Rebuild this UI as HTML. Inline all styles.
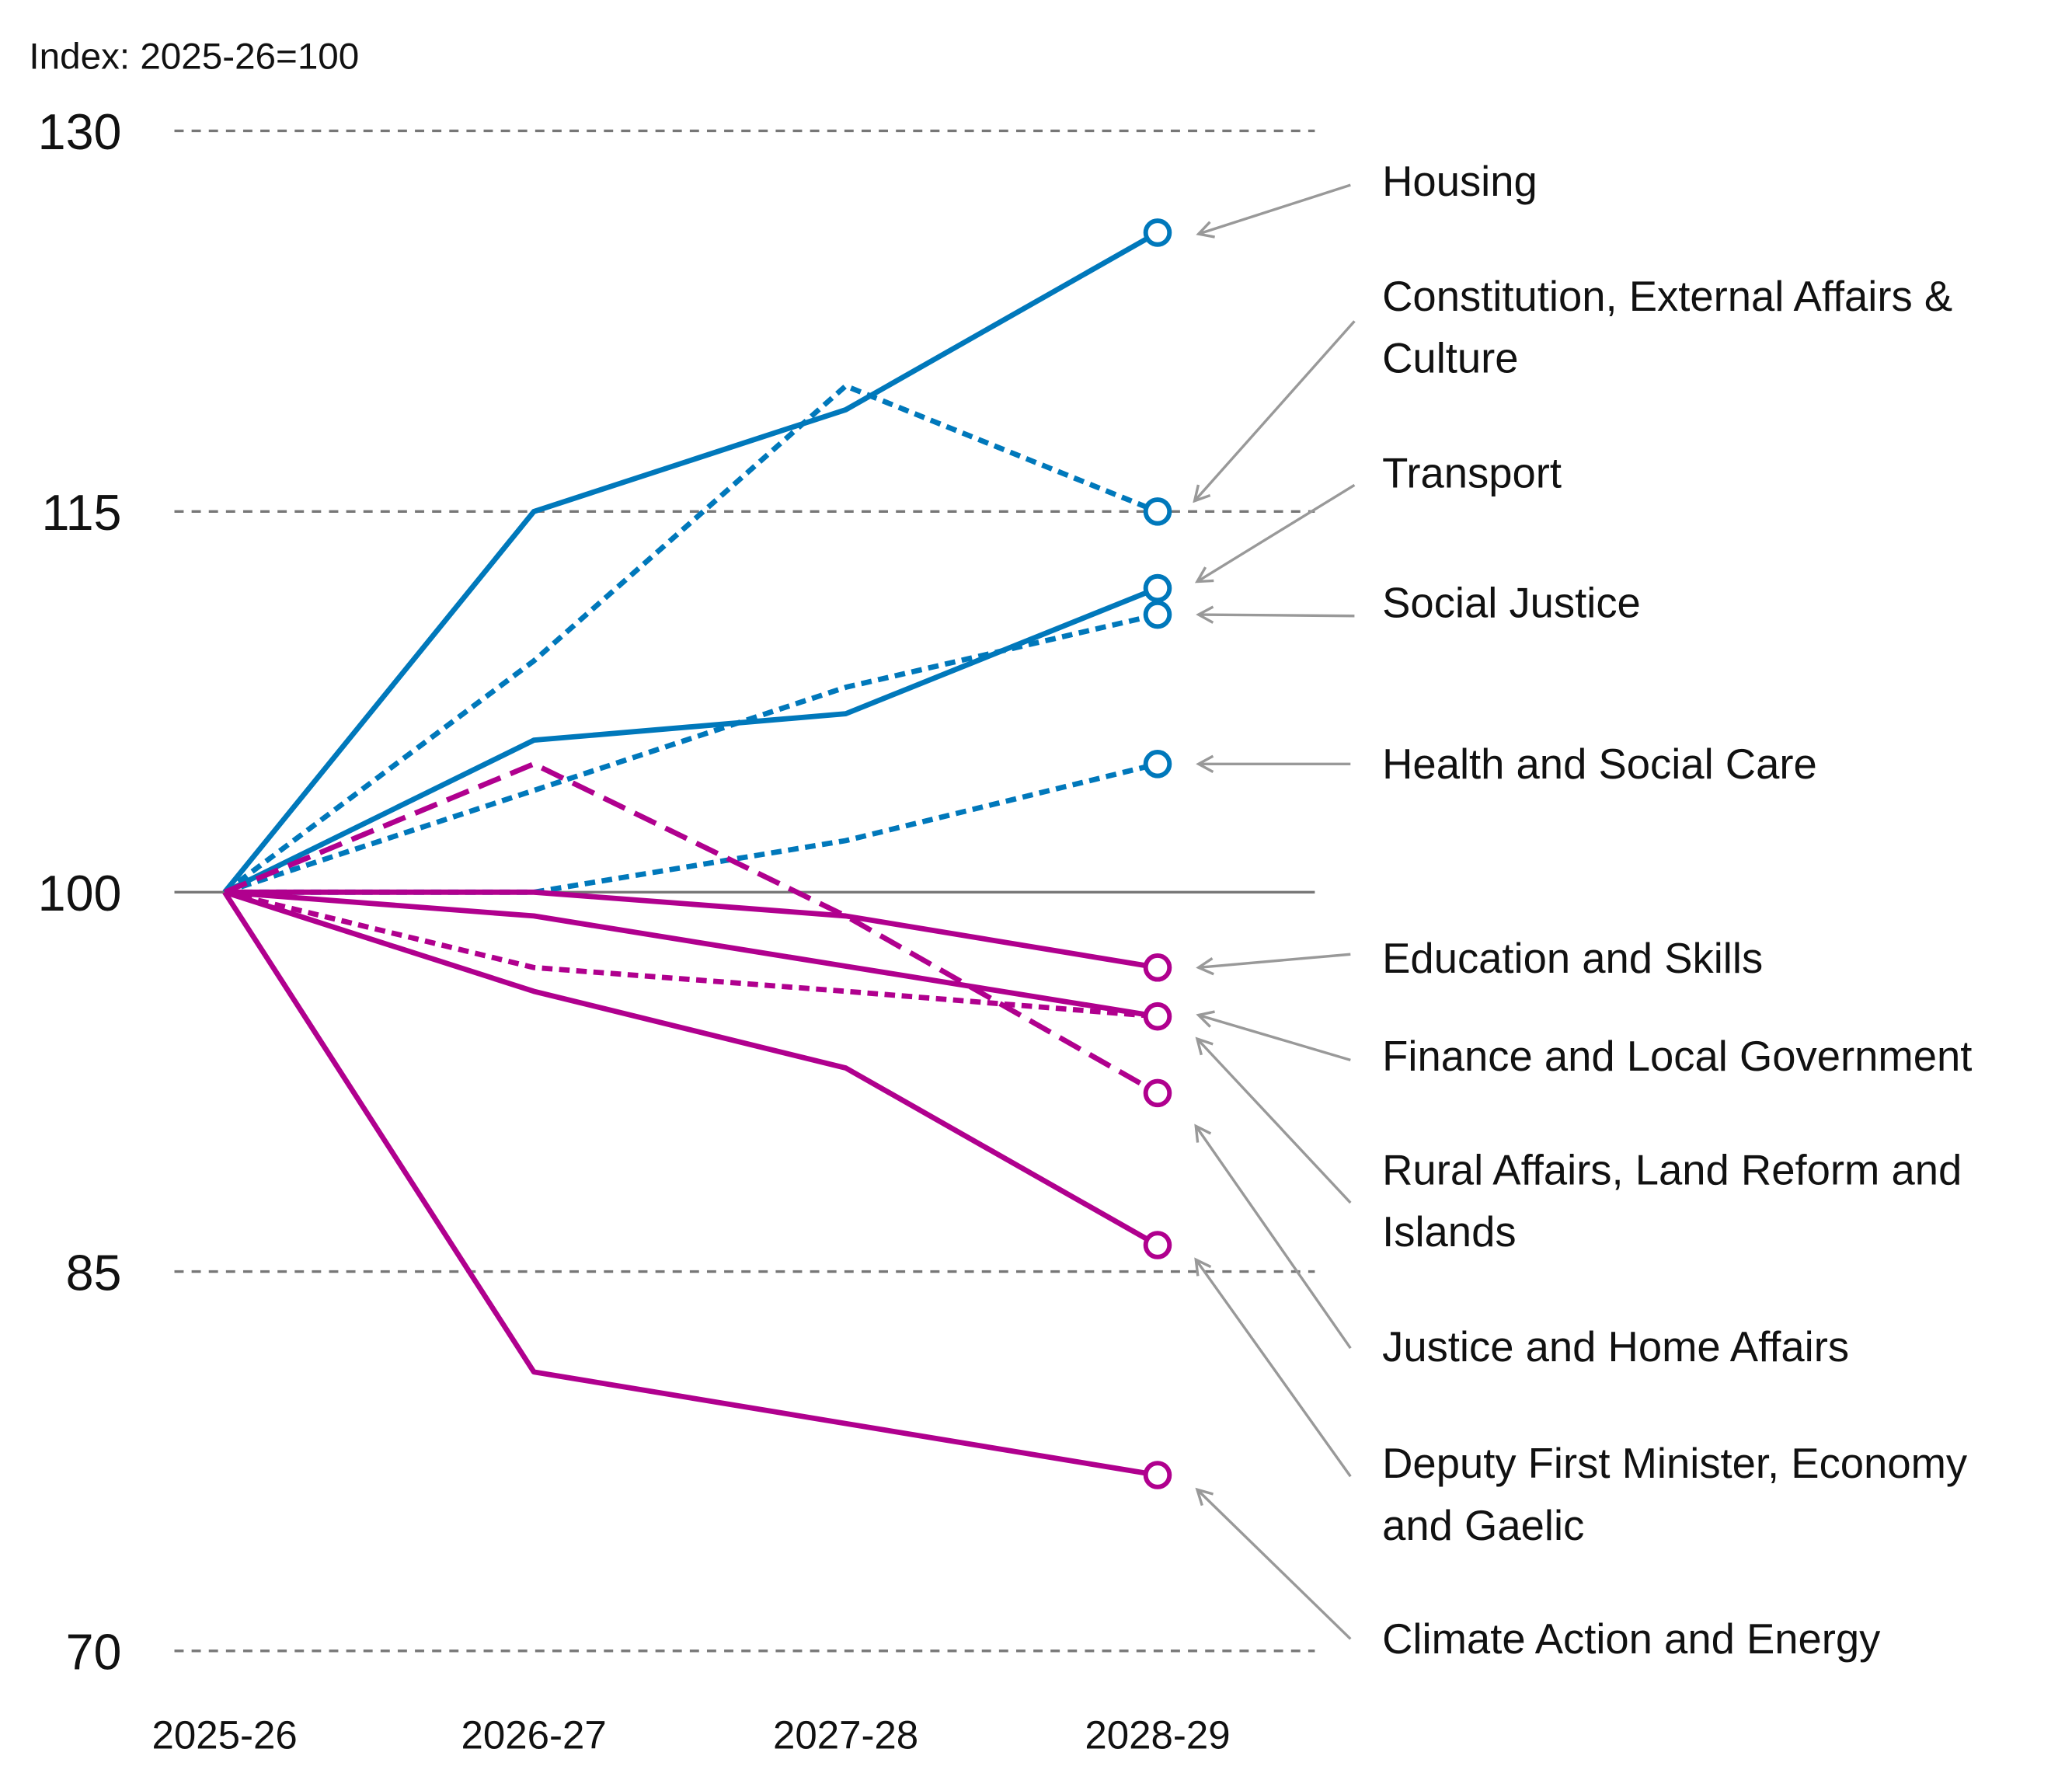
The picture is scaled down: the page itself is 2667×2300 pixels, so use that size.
<!DOCTYPE html>
<html><head><meta charset="utf-8"><style>
html,body{margin:0;padding:0;background:#fff;}
svg{display:block;}
text{font-family:"Liberation Sans",sans-serif;fill:#111;}
</style></head><body>
<svg width="2667" height="2300" viewBox="0 0 1568 1352" preserveAspectRatio="none" xmlns="http://www.w3.org/2000/svg">
<defs><marker id="ar" markerWidth="14" markerHeight="14" refX="12" refY="7" orient="auto" markerUnits="userSpaceOnUse"><path d="M1,1 L12,7 L1,13" fill="none" stroke="#999" stroke-width="2"/></marker></defs>
<text x="22" y="52" font-size="28">Index: 2025-26=100</text>
<g stroke="#777" stroke-width="2" stroke-dasharray="7,6">
<line x1="132" y1="99" x2="995" y2="99"/><line x1="132" y1="387" x2="995" y2="387"/>
<line x1="132" y1="962" x2="995" y2="962"/><line x1="132" y1="1249" x2="995" y2="1249"/>
</g>
<line x1="132" y1="675" x2="995" y2="675" stroke="#777" stroke-width="2"/>
<g font-size="38" text-anchor="end">
<text x="92" y="113">130</text><text x="92" y="401">115</text><text x="92" y="689">100</text><text x="92" y="976">85</text><text x="92" y="1263">70</text>
</g>
<g font-size="30" text-anchor="middle">
<text x="170" y="1323">2025-26</text><text x="404" y="1323">2026-27</text><text x="640" y="1323">2027-28</text><text x="876" y="1323">2028-29</text>
</g>
<g fill="none" stroke-width="4" stroke-linejoin="round">
<g stroke="#0078bb">
<polyline points="170,675 404,387 640,310 876,176"/>
<polyline points="170,675 404,500 640,292 876,387" stroke-dasharray="8,5"/>
<polyline points="170,675 404,560 640,540 876,445"/>
<polyline points="170,675 404,598 640,520 876,465" stroke-dasharray="8,5"/>
<polyline points="170,675 404,675 640,636 876,578" stroke-dasharray="8,5"/>
</g>
<g stroke="#b0008e">
<polyline points="170,675 404,675 640,693 876,732"/>
<polyline points="170,675 404,693 640,731 876,769"/>
<polyline points="170,675 404,732 640,750 876,769" stroke-dasharray="8,5"/>
<polyline points="170,675 404,578 640,693 876,827" stroke-dasharray="18,8"/>
<polyline points="170,675 404,750 640,808 876,942"/>
<polyline points="170,675 404,1038 640,1077 876,1116"/>
</g>
</g>
<g fill="#fff" stroke-width="3.5">
<g stroke="#0078bb"><circle cx="876" cy="176" r="9"/><circle cx="876" cy="387" r="9"/><circle cx="876" cy="445" r="9"/><circle cx="876" cy="465" r="9"/><circle cx="876" cy="578" r="9"/></g>
<g stroke="#b0008e"><circle cx="876" cy="732" r="9"/><circle cx="876" cy="769" r="9"/><circle cx="876" cy="827" r="9"/><circle cx="876" cy="942" r="9"/><circle cx="876" cy="1116" r="9"/></g>
</g>
<g stroke="#999" stroke-width="2" marker-end="url(#ar)">
<line x1="1022" y1="140" x2="907" y2="177"/>
<line x1="1025" y1="243" x2="904" y2="379"/>
<line x1="1025" y1="367" x2="906" y2="440"/>
<line x1="1025" y1="466" x2="907" y2="465"/>
<line x1="1022" y1="578" x2="907" y2="578"/>
<line x1="1022" y1="722" x2="907" y2="732"/>
<line x1="1022" y1="802" x2="907" y2="768"/>
<line x1="1022" y1="910" x2="906" y2="786"/>
<line x1="1022" y1="1020" x2="905" y2="852"/>
<line x1="1022" y1="1117" x2="905" y2="953"/>
<line x1="1022" y1="1240" x2="906" y2="1127"/>
</g>
<g font-size="32">
<text x="1046" y="148">Housing</text>
<text x="1046" y="235">Constitution, External Affairs &amp;</text>
<text x="1046" y="282">Culture</text>
<text x="1046" y="369">Transport</text>
<text x="1046" y="467">Social Justice</text>
<text x="1046" y="589">Health and Social Care</text>
<text x="1046" y="736">Education and Skills</text>
<text x="1046" y="810">Finance and Local Government</text>
<text x="1046" y="896">Rural Affairs, Land Reform and</text>
<text x="1046" y="943">Islands</text>
<text x="1046" y="1030">Justice and Home Affairs</text>
<text x="1046" y="1118">Deputy First Minister, Economy</text>
<text x="1046" y="1165">and Gaelic</text>
<text x="1046" y="1251">Climate Action and Energy</text>
</g>
</svg>
</body></html>
